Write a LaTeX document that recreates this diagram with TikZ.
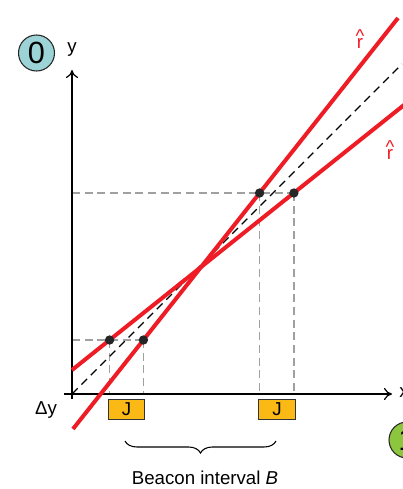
\documentclass[tikz,border=0pt]{standalone}
\usepackage{fontspec}
\setmainfont{Liberation Sans}
\usetikzlibrary{arrows.meta,decorations.pathreplacing}
\definecolor{rline}{HTML}{EE1C25}
\definecolor{jbox}{HTML}{FBB916}
\definecolor{teal0}{HTML}{9CD3D7}
\definecolor{green1}{HTML}{8CC63F}
\definecolor{gdash}{HTML}{A0A0A0}
\newcommand{\rhatsym}{\ooalign{\hfil r\hfil\cr\raisebox{4.5pt}{\textasciicircum}\cr}}
\tikzset{
  axis/.style={line width=0.9pt,-{To[length=6pt,width=9pt]}},
  redline/.style={rline,line width=3pt},
  refline/.style={black,line width=0.9pt,dash pattern=on 6pt off 4pt},
  guide/.style={gdash,line width=1.1pt,dash pattern=on 6pt off 3.5pt},
  dot/.style={circle,fill=black!85,inner sep=0pt,minimum size=7pt},
  jnode/.style={draw=black!80,fill=jbox,line width=0.8pt,minimum width=27.5pt,minimum height=15pt,inner sep=0pt,font=\fontsize{14pt}{14pt}\selectfont},
  lbl/.style={font=\fontsize{14pt}{16pt}\selectfont,inner sep=0pt},
  badge/.style={circle,draw=black!85,line width=0.8pt,minimum size=27pt,inner sep=0pt,font=\fontsize{23pt}{23pt}\selectfont}
}
\begin{document}
\begin{tikzpicture}[x=0.75pt,y=-0.75pt]
\useasboundingbox (0,0) rectangle (403,489);
\clip (0,0) rectangle (403,489);
% coordinates
\coordinate (xe) at (392,394);
\coordinate (xs) at (64,394);
\coordinate (ye) at (72,70);
\coordinate (ys) at (72,399);
\coordinate (da) at (72,394);
\coordinate (db) at (402,64);
\coordinate (sa) at (73,429);
\coordinate (sb) at (398,18);
\coordinate (ha) at (72,370);
\coordinate (hb) at (404,105);
\coordinate (p1) at (109.6,340);
\coordinate (p2) at (143.4,340);
\coordinate (p3) at (259.6,193);
\coordinate (p4) at (293.9,193);
\coordinate (l1) at (72,340);
\coordinate (l2) at (72,193);
\coordinate (b1) at (109.6,394);
\coordinate (b2) at (143.4,394);
\coordinate (b3) at (259.6,394);
\coordinate (b4) at (293.9,394);
% guides
\draw[guide] (l1) -- (p2);
\draw[guide] (l2) -- (p4);
\draw[guide] (p1) -- (b1);
\draw[guide] (p2) -- (b2);
\draw[guide] (p3) -- (b3);
\draw[guide] (p4) -- (b4);
% axes
\draw[axis] (xs) -- (xe);
\draw[axis] (ys) -- (ye);
% reference line
\draw[refline] (da) -- (db);
% red lines
\draw[redline] (sa) -- (sb);
\draw[redline] (ha) -- (hb);
% dots
\foreach \p in {p1,p2,p3,p4} \node[dot] at (\p) {};
% labels
\node[lbl] (ylab) at (72,50) {y};
\node[lbl] (xlab) at (404,393) {x};
\node[lbl] (dy) at (46,410) {Δy};
\node[lbl,rline,anchor=base] (r1) at (360,48) {\rhatsym};
\node[lbl,rline,anchor=base] (r2) at (390,159) {\rhatsym};
\node[badge,fill=teal0] (c0) at (36.5,53) {0};
\node[badge,fill=green1] (c1) at (407,440) {1};
\node[jnode] (j1) at (126.5,409.5) {J};
\node[jnode] (j2) at (277,409.5) {J};
\draw[line width=0.8pt,decorate,decoration={brace,mirror,amplitude=9pt}] (125,441) -- (276,441);
\node[lbl] (bi) at (205,478) {Beacon interval \textit{B}};
\end{tikzpicture}
\end{document}
